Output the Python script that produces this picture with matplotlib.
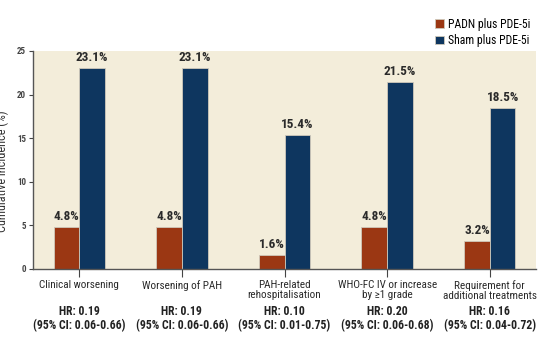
import matplotlib.pyplot as plt
import numpy as np

categories = ["Clinical worsening", "Worsening of PAH", "PAH-related\nrehospitalisation",
              "WHO-FC IV or increase\nby \u22651 grade", "Requirement for\nadditional treatments"]
padn = [4.8, 4.8, 1.6, 4.8, 3.2]
sham = [23.1, 23.1, 15.4, 21.5, 18.5]
hr_labels = ["HR: 0.19\n(95% CI: 0.06-0.66)", "HR: 0.19\n(95% CI: 0.06-0.66)",
             "HR: 0.10\n(95% CI: 0.01-0.75)", "HR: 0.20\n(95% CI: 0.06-0.68)",
             "HR: 0.16\n(95% CI: 0.04-0.72)"]
series_names = ["PADN plus PDE-5i", "Sham plus PDE-5i"]

RED = "#9b3713"
NAVY = "#0e365f"
BG = "#f3edda"
NARROW = ["Roboto Condensed", "PT Sans Narrow", "DejaVu Sans"]

fig = plt.figure(figsize=(5.44, 3.43), dpi=100)
ax = fig.add_axes([33/544, 1 - 269/343, 503/544, 218/343])
ax.set_facecolor(BG)

x = np.arange(len(categories))
w = 0.25
b1 = ax.bar(x - w/2, padn, w, color=RED, edgecolor="#cfc9bb", linewidth=0.6, label=series_names[0])
b2 = ax.bar(x + w/2, sham, w, color=NAVY, edgecolor="#cfc9bb", linewidth=0.6, label=series_names[1])

for bars, vals in [(b1, padn), (b2, sham)]:
    for r, v in zip(bars, vals):
        ax.text(r.get_x() + r.get_width()/2, v + 0.45, f"{v}%", ha="center", va="bottom",
                fontsize=9.5, fontweight="bold", family=NARROW, color="#2a2a2a")

ax.set_xlim(-0.45, 4.45)
ax.set_ylim(0, 25)
ax.set_yticks([0, 5, 10, 15, 20, 25])
ax.set_xticks(x)
ax.set_xticklabels(categories, fontsize=8, family=NARROW, color="#2a2a2a", linespacing=0.95)
ax.tick_params(axis="y", labelsize=6.5, length=3, width=0.8, colors="#444444", pad=2)
ax.tick_params(axis="x", length=6, width=0.8, colors="#444444", pad=2)
for lab in ax.get_xticklabels():
    lab.set_color("#2a2a2a")
for lab in ax.get_yticklabels():
    lab.set_family(NARROW)
    lab.set_fontweight("bold")
for s in ["top", "right"]:
    ax.spines[s].set_visible(False)
for s in ["left", "bottom"]:
    ax.spines[s].set_color("#555555")
    ax.spines[s].set_linewidth(1.0)

for xi, t in zip(x, hr_labels):
    ax.text(xi, -0.165, t, transform=ax.get_xaxis_transform(), ha="center", va="top",
            fontsize=8.5, fontweight="bold", family=NARROW, color="#222222", linespacing=1.05)

ax.set_ylabel("Cumulative incidence (%)", fontsize=8.8, family=NARROW, color="#333333")
ax.yaxis.set_label_coords(-0.047, 0.45)

fig.legend(handles=[b1, b2], loc="upper right", bbox_to_anchor=(535/544, 1 - 13/343),
           frameon=False, prop={"family": NARROW, "size": 8.5}, handlelength=0.75,
           handleheight=0.75, handletextpad=0.35, labelspacing=0.3, borderaxespad=0)

fig.savefig("out.png", dpi=100)
